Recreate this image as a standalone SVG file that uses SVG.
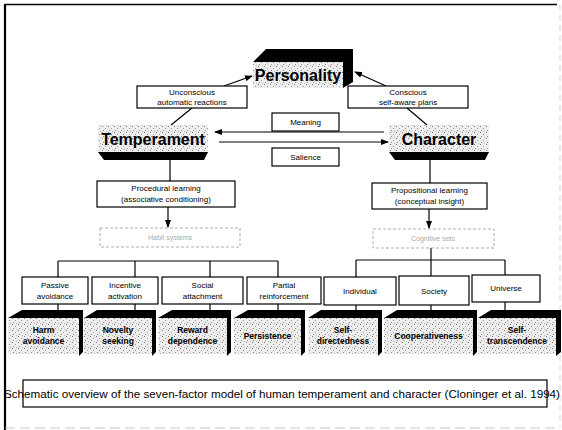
<svg xmlns="http://www.w3.org/2000/svg" width="562" height="430" viewBox="0 0 562 430">
<defs>
<pattern id="st" width="6" height="6" patternUnits="userSpaceOnUse">
<rect width="6" height="6" fill="#eeeeee"/>
<rect x="0" y="0" width="1" height="1" fill="#777"/>
<rect x="3" y="2" width="1" height="1" fill="#999"/>
<rect x="1" y="4" width="1" height="1" fill="#888"/>
<rect x="4" y="5" width="1" height="1" fill="#bbb"/>
</pattern>
<marker id="ah" markerWidth="8" markerHeight="6" refX="7" refY="3" orient="auto" markerUnits="userSpaceOnUse">
<path d="M0,0 L8,3 L0,6 Z" fill="#000"/>
</marker>
<style>
.bx{fill:#fff;stroke:#000;stroke-width:1.2}
.fb{fill:#fff;stroke:#999;stroke-width:0.8;stroke-dasharray:3 2}
.sp{fill:url(#st)}
.bk{fill:#000}
.ln{stroke:#000;stroke-width:1.2;fill:none}
.t{font-family:"Liberation Sans",Arial,sans-serif;font-size:8px;text-anchor:middle;fill:#000}
.tf{font-family:"Liberation Sans",Arial,sans-serif;font-size:7px;text-anchor:middle;fill:#aaa}
.tb{font-family:"Liberation Sans",Arial,sans-serif;font-size:16px;font-weight:bold;text-anchor:middle;fill:#000}
.ts{font-family:"Liberation Sans",Arial,sans-serif;font-size:8.5px;font-weight:bold;text-anchor:middle;fill:#000}
.cap{font-family:"Liberation Sans",Arial,sans-serif;font-size:10.5px;fill:#000}
</style>
</defs>
<rect width="562" height="430" fill="#fff"/>
<!-- frame -->
<line x1="5" y1="4" x2="5" y2="430" stroke="#000" stroke-width="2.2"/>
<line x1="5" y1="4.5" x2="557" y2="4.5" stroke="#000" stroke-width="1.6"/>
<line x1="560" y1="5" x2="560" y2="428" stroke="#ccc" stroke-width="0.8" stroke-dasharray="6 4"/>
<line x1="5" y1="428" x2="560" y2="428" stroke="#bbb" stroke-width="0.8" stroke-dasharray="10 5"/>

<g id="connectors">
<line class="ln" x1="224" y1="86" x2="252" y2="76" marker-end="url(#ah)"/>
<line class="ln" x1="386" y1="86" x2="355" y2="72" marker-end="url(#ah)"/>
<line class="ln" x1="192" y1="108" x2="171" y2="125"/>
<line class="ln" x1="407" y1="108" x2="427" y2="125"/>
<line class="ln" x1="384" y1="132" x2="215" y2="132" marker-end="url(#ah)"/>
<line class="ln" x1="219" y1="142" x2="388" y2="142" marker-end="url(#ah)"/>
<line class="ln" x1="170" y1="160" x2="170" y2="181"/>
<line class="ln" x1="430" y1="160" x2="430" y2="183"/>
<line class="ln" x1="168" y1="207" x2="168" y2="227" marker-end="url(#ah)"/>
<line class="ln" x1="429" y1="209" x2="429" y2="228" marker-end="url(#ah)"/>
<line class="ln" x1="58" y1="261" x2="278" y2="261"/>
<line class="ln" x1="58" y1="261" x2="58" y2="277"/>
<line class="ln" x1="135" y1="261" x2="135" y2="277"/>
<line class="ln" x1="210" y1="261" x2="210" y2="277"/>
<line class="ln" x1="278" y1="261" x2="278" y2="277"/>
<line class="ln" x1="356" y1="260" x2="505" y2="260"/>
<line class="ln" x1="431" y1="248" x2="431" y2="276"/>
<line class="ln" x1="356" y1="260" x2="356" y2="277"/>
<line class="ln" x1="505" y1="260" x2="505" y2="275"/>
<line class="ln" x1="58" y1="304" x2="58" y2="312"/>
<line class="ln" x1="135" y1="304" x2="135" y2="312"/>
<line class="ln" x1="210" y1="304" x2="210" y2="312"/>
<line class="ln" x1="278" y1="304" x2="278" y2="312"/>
<line class="ln" x1="356" y1="305" x2="356" y2="312"/>
<line class="ln" x1="431" y1="305" x2="431" y2="312"/>
<line class="ln" x1="505" y1="302" x2="505" y2="312"/>
</g>

<g id="personality">
<polygon class="bk" points="253,62 266,49 353,49 353,82 343,88 343,62"/>
<rect class="sp" x="253" y="62" width="90" height="26"/>
<text class="tb" x="298" y="81">Personality</text>
</g>
<g id="unconscious">
<rect class="bx" x="137" y="86" width="110" height="22"/>
<text class="t" x="192" y="95">Unconscious</text>
<text class="t" x="192" y="105">automatic reactions</text>
</g>
<g id="conscious">
<rect class="bx" x="348" y="86" width="120" height="22"/>
<text class="t" x="408" y="95">Conscious</text>
<text class="t" x="408" y="105">self-aware plans</text>
</g>
<g id="meaning">
<rect class="bx" x="272" y="113" width="67" height="18"/>
<text class="t" x="305.5" y="125">Meaning</text>
</g>
<g id="salience">
<rect class="bx" x="272" y="148" width="67" height="18"/>
<text class="t" x="305.5" y="160">Salience</text>
</g>
<g id="temperament">
<rect class="sp" x="98" y="125" width="110" height="28"/>
<polygon class="bk" points="98,152 208,152 204,160 104,160"/>
<text class="tb" x="153" y="145">Temperament</text>
</g>
<g id="character">
<rect class="sp" x="389" y="125" width="100" height="28"/>
<polygon class="bk" points="389,152 489,152 485,160 395,160"/>
<text class="tb" x="439" y="145">Character</text>
</g>
<g id="procedural">
<rect class="bx" x="97" y="181" width="138" height="26"/>
<text class="t" x="166" y="191">Procedural learning</text>
<text class="t" x="166" y="202">(associative conditioning)</text>
</g>
<g id="propositional">
<rect class="bx" x="372" y="183" width="115" height="26"/>
<text class="t" x="429.5" y="193">Propositional learning</text>
<text class="t" x="429.5" y="204">(conceptual insight)</text>
</g>
<g id="habit">
<rect class="fb" x="100" y="228" width="140" height="19"/>
<text class="tf" x="170" y="240">Habit systems</text>
</g>
<g id="cognitive">
<rect class="fb" x="373" y="229" width="121" height="19"/>
<text class="tf" x="433" y="241">Cognitive sets</text>
</g>

<g id="passive"><rect class="bx" x="22" y="277" width="66" height="27"/><text class="t" x="55" y="288">Passive</text><text class="t" x="55" y="299">avoidance</text></g>
<g id="incentive"><rect class="bx" x="92" y="277" width="66" height="27"/><text class="t" x="125" y="288">Incentive</text><text class="t" x="125" y="299">activation</text></g>
<g id="social"><rect class="bx" x="162" y="277" width="81" height="27"/><text class="t" x="202.5" y="288">Social</text><text class="t" x="202.5" y="299">attachment</text></g>
<g id="partial"><rect class="bx" x="247" y="277" width="74" height="27"/><text class="t" x="284" y="288">Partial</text><text class="t" x="284" y="299">reinforcement</text></g>
<g id="individual"><rect class="bx" x="324" y="277" width="72" height="28"/><text class="t" x="360" y="294">Individual</text></g>
<g id="society"><rect class="bx" x="399" y="276" width="70" height="29"/><text class="t" x="434" y="294">Society</text></g>
<g id="universe"><rect class="bx" x="472" y="275" width="68" height="27"/><text class="t" x="506" y="291">Universe</text></g>

<g id="harm"><polygon class="bk" points="8,318 22,310 83,310 83,352 79,356 79,318"/><rect class="sp" x="8" y="318" width="71" height="36"/><text class="ts" x="43.5" y="333">Harm</text><text class="ts" x="43.5" y="344">avoidance</text></g>
<g id="novelty"><polygon class="bk" points="84,318 97,310 156,310 156,352 152,356 152,318"/><rect class="sp" x="84" y="318" width="68" height="36"/><text class="ts" x="118" y="333">Novelty</text><text class="ts" x="118" y="344">seeking</text></g>
<g id="reward"><polygon class="bk" points="158,318 172,310 231,310 231,352 227,356 227,318"/><rect class="sp" x="158" y="318" width="69" height="36"/><text class="ts" x="192.5" y="333">Reward</text><text class="ts" x="192.5" y="344">dependence</text></g>
<g id="persistence"><polygon class="bk" points="234,318 248,310 305,310 305,352 301,356 301,318"/><rect class="sp" x="234" y="318" width="67" height="36"/><text class="ts" x="267.5" y="339">Persistence</text></g>
<g id="selfdir"><polygon class="bk" points="308,318 321,310 382,310 382,352 378,356 378,318"/><rect class="sp" x="308" y="318" width="70" height="36"/><text class="ts" x="343" y="333">Self-</text><text class="ts" x="343" y="344">directedness</text></g>
<g id="coop"><polygon class="bk" points="384,318 397,310 477,310 477,352 473,356 473,318"/><rect class="sp" x="384" y="318" width="89" height="36"/><text class="ts" x="428.5" y="339">Cooperativeness</text></g>
<g id="selftrans"><polygon class="bk" points="478,318 491,310 561,310 561,352 556,356 556,318"/><rect class="sp" x="478" y="318" width="78" height="36"/><text class="ts" x="517" y="333">Self-</text><text class="ts" x="517" y="344">transcendence</text></g>

<g id="caption">
<rect class="bx" x="23" y="380" width="524" height="27" fill="none"/>
<text class="cap" x="4" y="398" textLength="556" lengthAdjust="spacingAndGlyphs">Schematic overview of the seven-factor model of human temperament and character (Cloninger et al. 1994)</text>
</g>
</svg>
